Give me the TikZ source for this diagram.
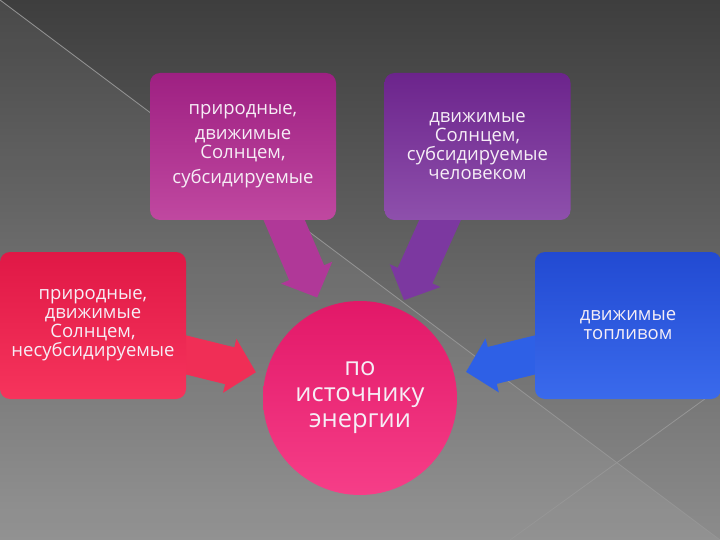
\documentclass[tikz,border=0pt]{standalone}
\usepackage{fontspec}
\setmainfont{Open Sans}
\usepackage{xcolor}
\usetikzlibrary{arrows.meta}
\definecolor{bg-top}{RGB}{62,62,62}
\definecolor{bg-bottom}{RGB}{140,140,140}
\definecolor{bg-line}{RGB}{150,150,150}
\definecolor{label-white}{RGB}{246,238,246}
\pgfdeclarelayer{back}
\pgfdeclarelayer{flow}
\pgfsetlayers{back,flow,main}
\tikzset{
    rounded-box/.style = {rectangle, rounded corners=10pt, minimum width=186pt, minimum height=147pt, inner sep=2pt, align=center, text=label-white, font=\fontsize{18.5}{19}\selectfont},
    source-circle/.style = {circle, minimum size=194pt, inner sep=0pt, align=center, text=label-white, font=\fontsize{25.5}{26}\selectfont, top color={rgb,255:red,226;green,24;blue,104}, bottom color={rgb,255:red,246;green,62;blue,136}},
    block-arrow/.style = {line width=38pt, -{Triangle[length=27pt, width=54pt]}},
    diag-line/.style = {draw=bg-line, line width=0.8pt},
}

\begin{document}
\begin{tikzpicture}[x=1pt, y=-1pt]
\useasboundingbox (0,0) rectangle (720,540);
\node [rounded-box, top color={rgb,255:red,158;green,32;blue,130}, bottom color={rgb,255:red,192;green,72;blue,160}] (sun-sub) at (243,146.5) {природные,\\[6pt]движимые\\Солнцем,\\[6pt]субсидируемые};
\node [rounded-box, top color={rgb,255:red,108;green,36;blue,140}, bottom color={rgb,255:red,142;green,80;blue,172}] (sun-human) at (477.5,146.5) {движимые\\Солнцем,\\субсидируемые\\человеком};
\node [rounded-box, top color={rgb,255:red,224;green,24;blue,70}, bottom color={rgb,255:red,246;green,52;blue,92}] (sun-unsub) at (93,325.5) {природные,\\движимые\\Солнцем,\\несубсидируемые};
\node [rounded-box, top color={rgb,255:red,34;green,74;blue,210}, bottom color={rgb,255:red,58;green,106;blue,236}] (fuel) at (628,325.5) {движимые\\топливом};
\node [source-circle] (source) at (360,398) {по\\источнику\\энергии};
\begin{pgfonlayer}{flow}
\draw [block-arrow, draw={rgb,255:red,176;green,56;blue,152}, shorten >=12pt] ([xshift=37pt, yshift=10pt]sun-sub.south) -- (source);
\draw [block-arrow, draw={rgb,255:red,124;green,56;blue,160}, shorten >=10pt] ([xshift=-33pt, yshift=10pt]sun-human.south) -- (source);
\draw [block-arrow, draw={rgb,255:red,240;green,46;blue,86}, shorten >=10pt] ([xshift=-10pt, yshift=-27pt]sun-unsub.east) -- (source);
\draw [block-arrow, draw={rgb,255:red,46;green,96;blue,230}, shorten >=12pt] ([xshift=10pt, yshift=-27pt]fuel.west) -- (source);
\end{pgfonlayer}
\begin{pgfonlayer}{back}
\shade [top color=bg-top, bottom color=bg-bottom] (0,0) rectangle (720,540);
\shade [top color=white, bottom color=white, opacity=0.06] (0,0) -- (720,540) -- (0,540) -- cycle;
\draw [diag-line] (0,0) -- (720,540);
\draw [diag-line] (720,388) -- (510,540);
\end{pgfonlayer}
\end{tikzpicture}
\end{document}
